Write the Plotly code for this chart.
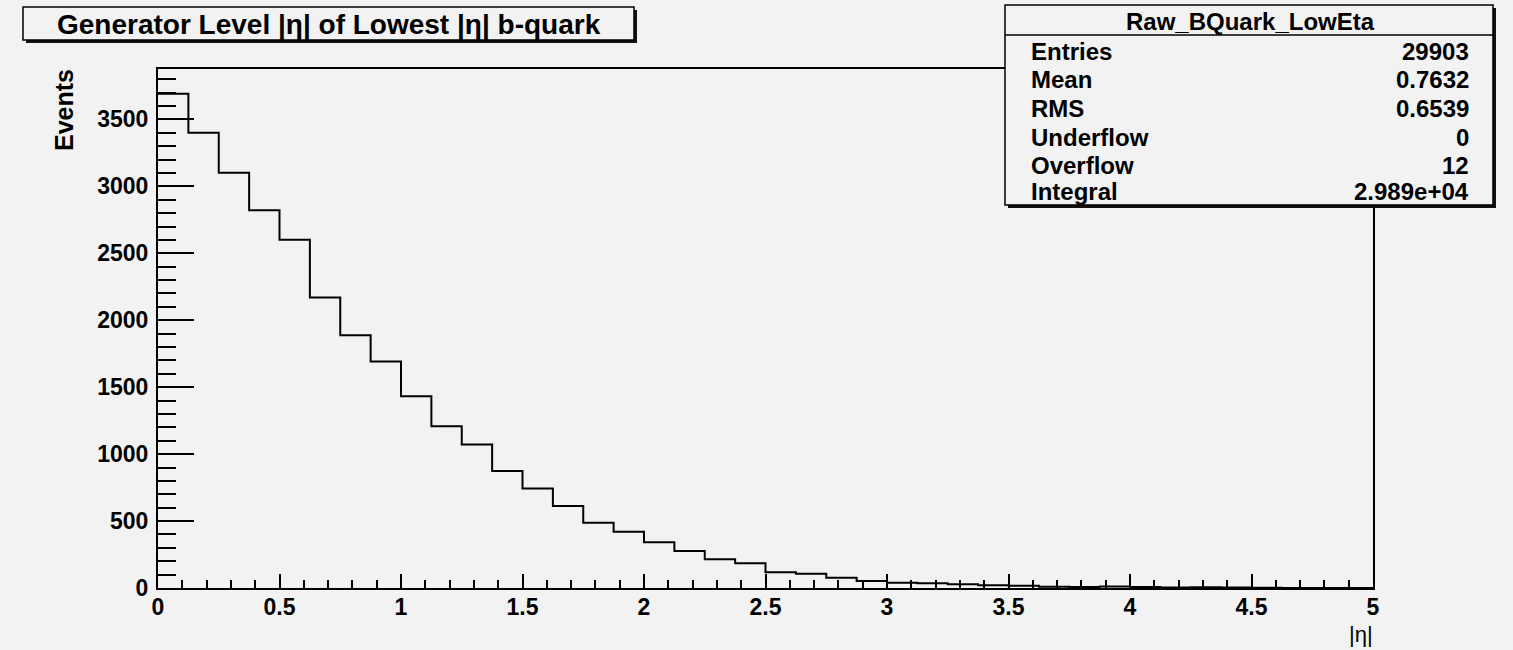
import plotly.graph_objects as go

# ---- data ----
bin_width = 0.125
bin_low_edges = [i * bin_width for i in range(40)]
counts = [3692, 3401, 3102, 2821, 2602, 2169, 1888, 1692, 1433, 1209,
          1072, 873, 744, 612, 487, 420, 341, 276, 214, 184,
          117, 107, 77, 52, 40, 36, 28, 20, 17, 10,
          8, 12, 7, 4, 5, 3, 2, 0, 0, 0]
x_tick_vals = [0, 0.5, 1, 1.5, 2, 2.5, 3, 3.5, 4, 4.5, 5]
x_tick_text = ["0", "0.5", "1", "1.5", "2", "2.5", "3", "3.5", "4", "4.5", "5"]
y_tick_vals = [0, 500, 1000, 1500, 2000, 2500, 3000, 3500]
y_tick_text = ["0", "500", "1000", "1500", "2000", "2500", "3000", "3500"]

stats_title = "Raw_BQuark_LowEta"
stats_labels = ["Entries", "Mean", "RMS", "Underflow", "Overflow", "Integral"]
stats_values = ["29903", "0.7632", "0.6539", "0", "12", "2.989e+04"]

title_text = "Generator Level |η| of Lowest |η| b-quark"

# ---- layout geometry ----
W, H = 1513, 650
L, R, T, B = 158, 1373, 69, 588
BG = "#f2f2f2"
FONT = "Liberation Sans"


def fx(px):
    return (px - L) / (R - L)


def fy(py):
    return (B - py) / (B - T)


edges = bin_low_edges + [bin_low_edges[-1] + bin_width]
yvals = counts + [counts[-1]]

fig = go.Figure()
fig.add_trace(go.Scatter(
    x=edges, y=yvals, mode="lines", line=dict(shape="hv", color="black", width=2),
    hoverinfo="skip", showlegend=False,
))

ymax = max(counts) * 1.05

axis_common = dict(showgrid=False, zeroline=False, showline=True, linecolor="black",
                   linewidth=2, mirror=True, ticks="inside", tickcolor="black",
                   tickwidth=2)

fig.update_xaxes(range=[0, 5], tickvals=x_tick_vals, ticktext=x_tick_text,
                 ticklen=14,
                 minor=dict(dtick=0.1, ticks="inside", ticklen=8, tickwidth=2,
                            tickcolor="black"),
                 tickfont=dict(family=FONT, size=23, color="black", weight="bold"),
                 ticklabelstandoff=-3,
                 **axis_common)
fig.update_yaxes(range=[0, ymax], tickvals=y_tick_vals, ticktext=y_tick_text,
                 ticklen=36,
                 minor=dict(dtick=100, ticks="inside", ticklen=18, tickwidth=2,
                            tickcolor="black"),
                 tickfont=dict(family=FONT, size=23, color="black", weight="bold"),
                 ticklabelstandoff=3,
                 **axis_common)

shapes = []
annotations = []


def box(x0, y0, x1, y1):
    shapes.append(dict(type="rect", xref="paper", yref="paper", layer="above",
                       x0=fx(x0 + 3), x1=fx(x1 + 3), y0=fy(y0 + 3), y1=fy(y1 + 3),
                       fillcolor="#111111", line=dict(width=0)))
    shapes.append(dict(type="rect", xref="paper", yref="paper", layer="above",
                       x0=fx(x0), x1=fx(x1), y0=fy(y0), y1=fy(y1),
                       fillcolor=BG, line=dict(color="black", width=1.5)))


# title box
box(23, 7, 634, 40)
annotations.append(dict(xref="paper", yref="paper", x=fx(329), y=fy(24),
                        text=title_text, showarrow=False, xanchor="center",
                        yanchor="middle",
                        font=dict(family=FONT, size=28, color="black", weight="bold")))

# stats box
box(1005, 5, 1493, 205)
shapes.append(dict(type="line", xref="paper", yref="paper", layer="above",
                   x0=fx(1005), x1=fx(1493), y0=fy(35), y1=fy(35),
                   line=dict(color="black", width=1.5)))
annotations.append(dict(xref="paper", yref="paper", x=fx(1250), y=fy(21),
                        text=stats_title, showarrow=False, xanchor="center",
                        yanchor="middle",
                        font=dict(family=FONT, size=24, color="black", weight="bold")))
row_y = [52, 80, 108, 137, 165, 191]
for lab, val, ry in zip(stats_labels, stats_values, row_y):
    annotations.append(dict(xref="paper", yref="paper", x=fx(1029), y=fy(ry),
                            text=lab, showarrow=False, xanchor="left", yanchor="middle",
                            font=dict(family=FONT, size=24, color="black", weight="bold")))
    annotations.append(dict(xref="paper", yref="paper", x=fx(1471), y=fy(ry),
                            text=val, showarrow=False, xanchor="right", yanchor="middle",
                            font=dict(family=FONT, size=24, color="black", weight="bold")))

# axis titles
annotations.append(dict(xref="paper", yref="paper", x=fx(64), y=fy(67),
                        text="Events", textangle=-90, showarrow=False,
                        xanchor="center", yanchor="top",
                        font=dict(family=FONT, size=25, color="black", weight="bold")))
annotations.append(dict(xref="paper", yref="paper", x=fx(1375), y=fy(634),
                        text="|η|", showarrow=False, xanchor="right", yanchor="middle",
                        font=dict(family=FONT, size=22, color="black")))

fig.update_layout(
    width=W, height=H,
    margin=dict(l=L, r=W - R, t=T, b=H - B, pad=0),
    paper_bgcolor=BG, plot_bgcolor=BG,
    shapes=shapes, annotations=annotations,
    showlegend=False,
)

fig.write_html("out.html", config={"displayModeBar": False})
